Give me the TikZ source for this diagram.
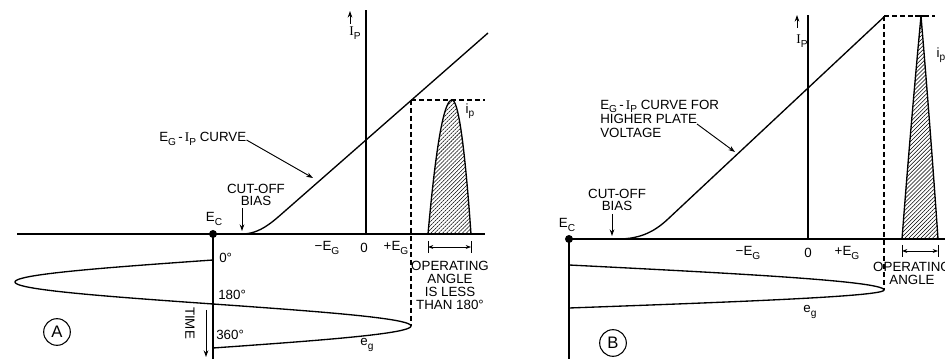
\documentclass[tikz,border=0pt]{standalone}
\usepackage{fontspec}
\setmainfont{Liberation Sans}
\newfontfamily\serifI{Liberation Serif}
\usetikzlibrary{arrows.meta,patterns.meta}
\newcommand{\sub}[1]{\raisebox{-2.6pt}{\fontsize{7.6}{7.6}\selectfont #1}}
\newcommand{\IP}{{\serifI I}\sub{P}}
\begin{document}
\begin{tikzpicture}[x=0.75pt,y=-0.75pt,
  every node/.style={font=\fontsize{10}{9.6}\selectfont, inner sep=0pt},
  ln/.style={line width=1pt},
  dsh/.style={line width=0.8pt, dash pattern=on 3.5pt off 2.5pt},
  ptr/.style={line width=0.7pt,-{Stealth[length=5pt,width=3.5pt]}},
  dim/.style={line width=0.7pt,{Stealth[length=4pt,width=3pt]}-{Stealth[length=4pt,width=3pt]}},
  hatch/.style={pattern={Lines[angle=45,distance=2.1pt,line width=0.4pt]}},
  circ/.style={draw,circle,line width=0.8pt,minimum size=20pt,font=\fontsize{12.5}{12}\selectfont}]
\useasboundingbox (0,0) rectangle (945,359);
\clip (0,0) rectangle (945,359);

% ================= Panel A =================
\coordinate (Al) at (17,234);
\coordinate (Ar) at (485,234);
\coordinate (Aec) at (213,234);
\coordinate (Abot) at (213,359);
\coordinate (Aipb) at (366,234);
\coordinate (Aipt) at (366,10);
\coordinate (Acut) at (242,234);
\coordinate (Abend) at (285,211);
\coordinate (Atop) at (488,33);
\coordinate (Ap) at (411,100);
\coordinate (Adh) at (485,100);
\coordinate (Atip) at (411,326);

\draw[ln] (Al) -- (Ar);
\draw[ln] (Aec) -- (Abot);
\draw[ln] (Aipb) -- (Aipt);
\fill (Aec) circle (4);
\draw[ln] (Acut) .. controls (260,234) and (273,221.5) .. (Abend) -- (Atop);
\draw[dsh] (Ap) -- (Adh);
\draw[dsh] (Ap) -- (Atip);
% e_g wave
\draw[ln] plot[domain=0:360,samples=150] ({213-198*sin(\x)},{260+\x/360*88});
% i_p pulse
\draw[ln,hatch] plot[domain=1:0,samples=30] ({452-24*\x},{100+134*\x*\x})
   -- plot[domain=0:1,samples=30] ({452+19*\x},{100+134*\x*\x}) -- cycle;
% operating angle dimension
\coordinate (Ad1) at (428,247);
\coordinate (Ad2) at (471,247);
\draw[line width=0.7pt] (428,241) -- (428,253);
\draw[line width=0.7pt] (471,241) -- (471,253);
\draw[dim] (Ad1) -- (Ad2);
% labels
\coordinate (Aipa1) at (350,24);
\coordinate (Aipa2) at (350,11);
\draw[ptr] (Aipa1) -- (Aipa2);
\node (AIP) at (355,33) {\IP};
\node (AEC) at (214,219) {E\sub{C}};
\node[align=center] (Acutlbl) at (256,195) {CUT-OFF\\BIAS};
\coordinate (Aca1) at (242,208);
\coordinate (Aca2) at (242,231);
\draw[ptr] (Aca1) -- (Aca2);
\node[anchor=west] (Acurve) at (159,139) {E\sub{G}\,-\,\IP\ CURVE};
\coordinate (Acp) at (313,178);
\draw[ptr] (Acurve.east) ++(0,1) -- (Acp);
\node (AmEG) at (327,248) {−E\sub{G}};
\node (A0) at (364,248) {0};
\node (ApEG) at (396,248) {+E\sub{G}};
\node (Aip) at (470,111) {i\sub{p}};
\node[align=center] (Aop) at (450,285.5) {OPERATING\\ANGLE\\IS LESS\\THAN 180°};
\node[anchor=west] (A0d) at (219,258) {0°};
\node[anchor=west] (A180) at (218,295) {180°};
\node[anchor=west] (A360) at (216,335) {360°};
\node (Aeg) at (367,345) {e\sub{g}};
\node[rotate=-90] (Atime) at (190,323) {TIME};
\coordinate (Ata1) at (206,310);
\coordinate (Ata2) at (206,357);
\draw[ptr] (Ata1) -- (Ata2);
\node[circ] (Acirc) at (57,332) {A};

% ================= Panel B =================
\coordinate (Bec) at (569,239);
\coordinate (Br) at (945,239);
\coordinate (Bbot) at (569,359);
\coordinate (Bipb) at (808,239);
\coordinate (Bipt) at (808,15);
\coordinate (Bcut) at (618,239);
\coordinate (Bbend) at (668,219);
\coordinate (Btop) at (885,16);
\coordinate (Bp) at (884,16);
\coordinate (Bdh) at (935,16);
\coordinate (Btip) at (884,290);

\draw[ln] (Bec) -- (Br);
\draw[ln] (Bec) -- (Bbot);
\draw[ln] (Bipb) -- (Bipt);
\fill (Bec) circle (4);
\draw[ln] (Bcut) .. controls (642,239) and (656,230.2) .. (Bbend) -- (Btop);
\draw[dsh] (Bp) -- (Bdh);
\draw[dsh] (Bp) -- (Btip);
% e_g half wave
\draw[ln] plot[domain=0:90,samples=60] ({569+315*sin(\x)},{265+\x/90*25})
  -- plot[domain=90:180,samples=60] ({569+315*sin(\x)},{290+(\x-90)/90*18});
% i_p pulse
\draw[ln,hatch] plot[domain=1:0,samples=30] ({921-19*(1.1*\x-0.1*\x*\x)},{16+223*\x})
   -- plot[domain=0:1,samples=30] ({921+17*(1.1*\x-0.1*\x*\x)},{16+223*\x}) -- cycle;
\draw[line width=1pt] (915,16) -- (929,16);
% operating angle dimension
\coordinate (Bd1) at (902,251);
\coordinate (Bd2) at (938,251);
\draw[line width=0.7pt] (902,245) -- (902,257);
\draw[line width=0.7pt] (938,245) -- (938,257);
\draw[dim] (Bd1) -- (Bd2);
% labels
\coordinate (Bipa1) at (797,28);
\coordinate (Bipa2) at (797,15);
\draw[ptr] (Bipa1) -- (Bipa2);
\node (BIP) at (802,41) {\IP};
\node (BEC) at (567,225) {E\sub{C}};
\node[align=center] (Bcutlbl) at (617,200) {CUT-OFF\\BIAS};
\coordinate (Bca1) at (612,214);
\coordinate (Bca2) at (612,236);
\draw[ptr] (Bca1) -- (Bca2);
\node[anchor=west,align=left,font=\fontsize{10}{10.8}\selectfont] (Bcurve) at (600,119)
  {E\sub{G}\,-\,\IP\ CURVE FOR\\HIGHER PLATE\\VOLTAGE};
\coordinate (Bcs) at (697,124);
\coordinate (Bcp) at (735,152);
\draw[ptr] (Bcs) -- (Bcp);
\node (BmEG) at (748,253) {−E\sub{G}};
\node (B0) at (808,253) {0};
\node (BpEG) at (847,253) {+E\sub{G}};
\node (Bip) at (941,55) {i\sub{p}};
\node[align=center] (Bop) at (912,273.5) {OPERATING\\ANGLE};
\node (Beg) at (810,312) {e\sub{g}};
\node[circ] (Bcirc) at (613,343) {B};
\end{tikzpicture}
\end{document}
